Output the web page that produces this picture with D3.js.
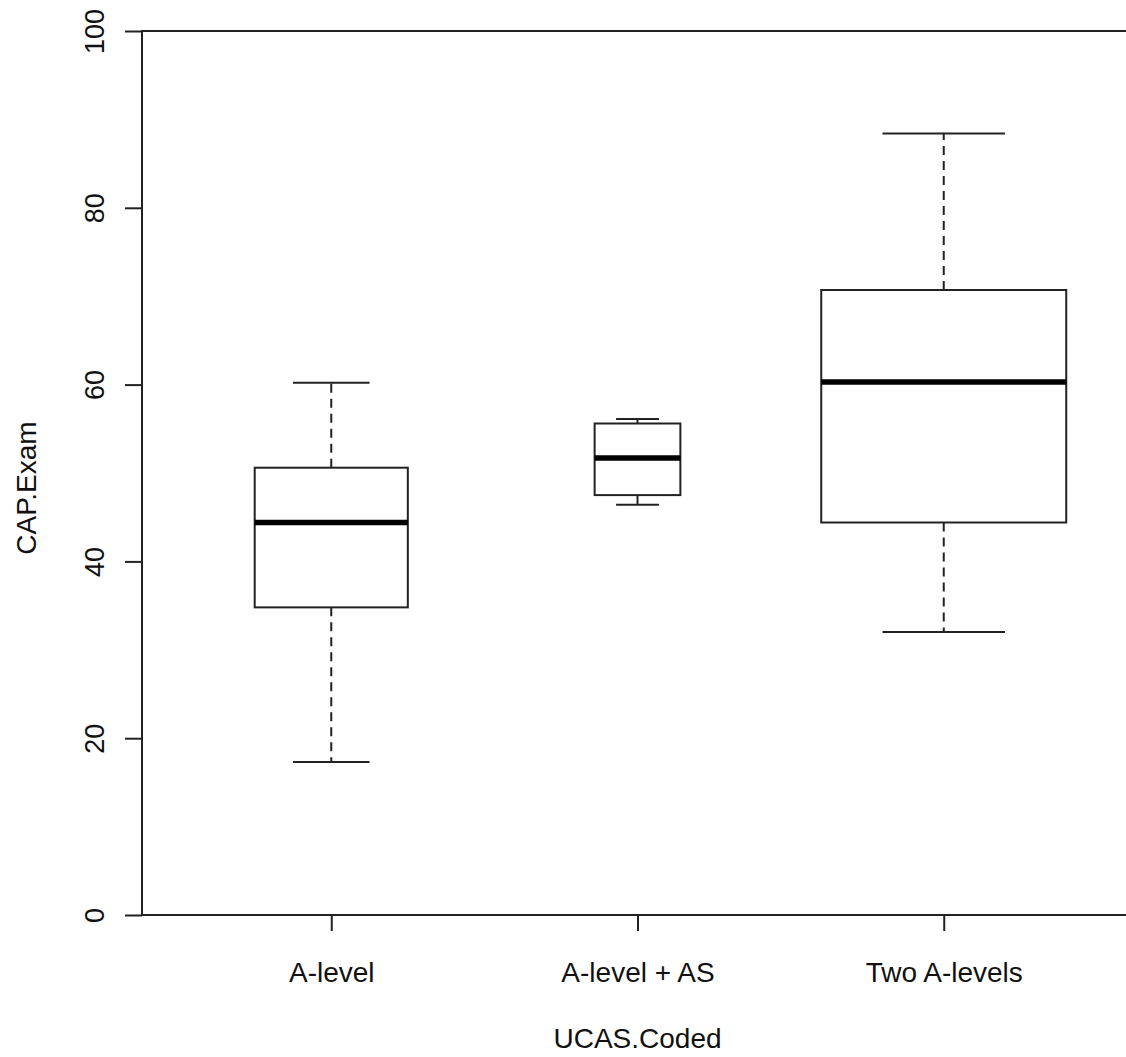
<!DOCTYPE html>
<html>
<head>
<meta charset="utf-8">
<script src="https://cdn.jsdelivr.net/npm/d3@7"></script>
<style>
  html, body { margin: 0; padding: 0; background: #fff; }
  svg { display: block; }
  text { font-family: "Liberation Sans", Arial, sans-serif; fill: #111; }
</style>
</head>
<body>
<svg id="chart" width="1126" height="1057"></svg>
<script>
// Data
const categories = ["A-level", "A-level + AS", "Two A-levels"];
const lowerWhisker = [17.3, 46.4, 32.0];
const q1 = [34.8, 47.5, 44.4];
const median = [44.4, 51.7, 60.3];
const q3 = [50.6, 55.6, 70.7];
const upperWhisker = [60.2, 56.1, 88.4];
const relWidth = [0.5, 0.28, 0.8]; // varwidth box widths (fraction of category spacing)
const yTicks = [0, 20, 40, 60, 80, 100];
const yLabel = "CAP.Exam";
const xLabel = "UCAS.Coded";

const svg = d3.select("#chart");
const plotL = 142, plotR = 1133, plotT = 31, plotB = 915;
const ink = "#222";

const x = d3.scaleLinear().domain([0.382, 3.618]).range([plotL, plotR]);
const y = d3.scaleLinear().domain([0, 100]).range([plotB, plotT]);
const unit = x(2) - x(1);

// frame
svg.append("rect")
  .attr("x", plotL).attr("y", plotT)
  .attr("width", plotR - plotL).attr("height", plotB - plotT)
  .attr("fill", "none").attr("stroke", ink).attr("stroke-width", 2);

// y axis
const yAxis = d3.axisLeft(y).tickValues(yTicks).tickSize(17).tickFormat(d3.format("d"));
const gy = svg.append("g").attr("transform", `translate(${plotL},0)`).call(yAxis);
gy.select(".domain").remove();
gy.selectAll(".tick line").attr("stroke", ink).attr("stroke-width", 2);
gy.selectAll(".tick text")
  .attr("x", 0).attr("dy", null).attr("y", 0)
  .attr("transform", "translate(-38,0) rotate(-90)")
  .attr("text-anchor", "middle")
  .style("font-size", "27px")
  .style("font-family", "'Liberation Sans', Arial, sans-serif")
  .attr("fill", "#111");

// x axis
const xAxis = d3.axisBottom(x).tickValues([1, 2, 3]).tickSize(16).tickFormat((d) => categories[d - 1]);
const gx = svg.append("g").attr("transform", `translate(0,${plotB})`).call(xAxis);
gx.select(".domain").remove();
gx.selectAll(".tick line").attr("stroke", ink).attr("stroke-width", 2);
gx.selectAll(".tick text")
  .attr("y", 67).attr("dy", null)
  .style("font-size", "28px")
  .style("font-family", "'Liberation Sans', Arial, sans-serif")
  .attr("fill", "#111");

// axis titles
svg.append("text")
  .attr("transform", `translate(36,${(plotT + plotB) / 2 + 15}) rotate(-90)`)
  .attr("text-anchor", "middle")
  .style("font-size", "28px")
  .text(yLabel);
svg.append("text")
  .attr("x", x(2)).attr("y", 1048)
  .attr("text-anchor", "middle")
  .style("font-size", "28px")
  .text(xLabel);

// boxes
const data = categories.map((c, i) => ({
  i: i + 1, lo: lowerWhisker[i], q1: q1[i], med: median[i], q3: q3[i], hi: upperWhisker[i], w: relWidth[i]
}));

const g = svg.append("g");
data.forEach(d => {
  const cx = x(d.i);
  const half = d.w * unit / 2;
  const capHalf = half / 2;
  // whiskers (dashed)
  g.append("line").attr("x1", cx).attr("x2", cx).attr("y1", y(d.q3)).attr("y2", y(d.hi))
    .attr("stroke", ink).attr("stroke-width", 2).attr("stroke-dasharray", "9,6");
  g.append("line").attr("x1", cx).attr("x2", cx).attr("y1", y(d.q1)).attr("y2", y(d.lo))
    .attr("stroke", ink).attr("stroke-width", 2).attr("stroke-dasharray", "9,6");
  // caps
  [d.hi, d.lo].forEach(v => {
    g.append("line").attr("x1", cx - capHalf).attr("x2", cx + capHalf).attr("y1", y(v)).attr("y2", y(v))
      .attr("stroke", ink).attr("stroke-width", 2);
  });
  // box
  g.append("rect").attr("x", cx - half).attr("y", y(d.q3))
    .attr("width", 2 * half).attr("height", y(d.q1) - y(d.q3))
    .attr("fill", "#fff").attr("stroke", ink).attr("stroke-width", 2);
  // median
  g.append("line").attr("x1", cx - half).attr("x2", cx + half).attr("y1", y(d.med)).attr("y2", y(d.med))
    .attr("stroke", "#000").attr("stroke-width", 5.5);
});
</script>
</body>
</html>
